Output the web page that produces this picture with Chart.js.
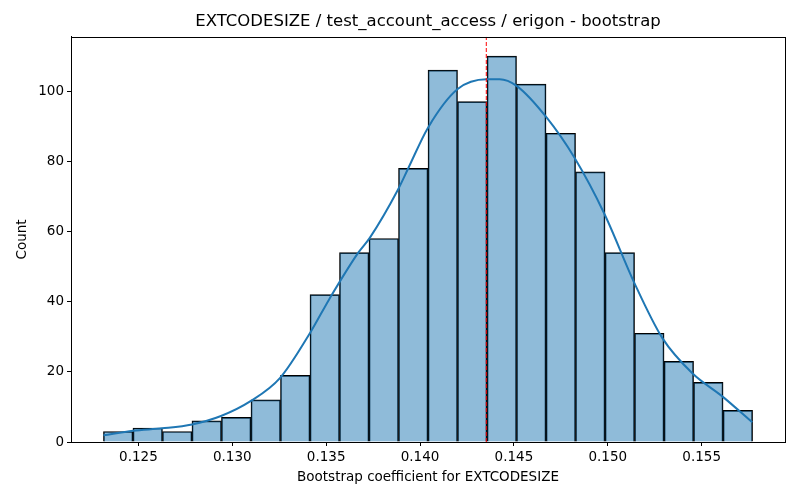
<!DOCTYPE html>
<html>
<head>
<meta charset="utf-8">
<script src="https://cdn.jsdelivr.net/npm/chart.js@4.4.1/dist/chart.umd.min.js"></script>
<style>
    html, body { margin: 0; padding: 0; background: #fff; }
    #wrap { width: 800px; height: 500px; }
</style>
</head>
<body>
<div id="wrap"><canvas id="hist-chart" width="800" height="500"></canvas></div>
<script>
// histogram bin edges (22 bins) and counts
const binEdges = [
    0.123138, 0.12471, 0.126281, 0.127853, 0.129424, 0.130996, 0.132568, 0.134139,
    0.135711, 0.137282, 0.138854, 0.140426, 0.141997, 0.143569, 0.14514, 0.146712,
    0.148284, 0.149855, 0.151427, 0.152998, 0.15457, 0.156142, 0.157713,
];
const binCounts = [3, 4, 3, 6, 7, 12, 19, 42, 54, 58, 78, 106, 97, 110, 102, 88, 77, 54, 31, 23, 17, 9];

// kde curve
const kdeX = [
    0.123138, 0.124718, 0.126261, 0.127856, 0.129399, 0.130995, 0.132537, 0.134133,
    0.135197, 0.136702, 0.137324, 0.13883, 0.139362, 0.140426, 0.142005, 0.143548,
    0.144239, 0.145144, 0.146739, 0.148229, 0.149824, 0.15142, 0.15291, 0.154505,
    0.156101, 0.157697,
];
const kdeY = [
    1.9, 3.2, 3.9, 5.0, 7.4, 11.7, 18.2, 31, 41, 53.9, 58.2, 72, 77.9, 89.6, 100.6, 103.4,
    103.4, 101.5, 92.5, 81, 65, 45.3, 29.6, 19.6, 13, 5.6,
];

const meanValue = 0.14353;
const xTicks = [0.125, 0.13, 0.135, 0.14, 0.145, 0.15, 0.155];
const yTicks = [0, 20, 40, 60, 80, 100];
const xMin = 0.12141;
const xMax = 0.15944;
const yMax = 115.5;

const FONT = "'DejaVu Sans', sans-serif";

const barData = binCounts.map((c, i) => ({ x: (binEdges[i] + binEdges[i + 1]) / 2, y: c }));
const kdeData = kdeX.map((x, i) => ({ x, y: kdeY[i] }));

const frame = {
    id: 'frame',
    afterDraw(chart) {
        const { ctx, chartArea } = chart;
        ctx.save();
        ctx.strokeStyle = '#000';
        ctx.lineWidth = 1;
        ctx.strokeRect(
            Math.round(chartArea.left) + 0.5,
            Math.round(chartArea.top) + 0.5,
            Math.round(chartArea.right - chartArea.left),
            Math.round(chartArea.bottom - chartArea.top)
        );
        ctx.restore();
    },
};

const config = {
    data: {
        datasets: [
            {
                type: 'bar',
                data: barData,
                backgroundColor: 'rgba(31,119,180,0.5)',
                borderColor: '#000',
                borderWidth: 1,
                barPercentage: 1,
                categoryPercentage: 1,
                order: 3,
            },
            {
                type: 'line',
                data: kdeData,
                borderColor: '#1f77b4',
                borderWidth: 2,
                pointRadius: 0,
                cubicInterpolationMode: 'monotone',
                fill: false,
                order: 2,
            },
            {
                type: 'line',
                data: [{ x: meanValue, y: 0 }, { x: meanValue, y: yMax }],
                borderColor: '#ff0000',
                borderWidth: 1,
                borderDash: [4, 2],
                pointRadius: 0,
                fill: false,
                order: 1,
            },
        ],
    },
    options: {
        responsive: false,
        animation: false,
        devicePixelRatio: 1,
        layout: { padding: { left: 0, right: 15, top: 0, bottom: 0 } },
        plugins: {
            legend: { display: false },
            tooltip: { enabled: false },
            title: {
                display: true,
                fullSize: false,
                text: 'EXTCODESIZE / test_account_access / erigon - bootstrap',
                color: '#000',
                font: { family: FONT, size: 16.5, weight: 'normal' },
                padding: { top: 12, bottom: 5 },
            },
        },
        scales: {
            x: {
                type: 'linear',
                min: xMin,
                max: xMax,
                offset: false,
                afterBuildTicks: (scale) => {
                    scale.ticks = xTicks.map((v) => ({ value: v }));
                },
                afterFit: (scale) => {
                    scale.height = 58;
                },
                ticks: {
                    color: '#000',
                    font: { family: FONT, size: 13.5 },
                    padding: 3,
                    maxRotation: 0,
                    callback: (v) => v.toFixed(3),
                },
                grid: { offset: false, drawOnChartArea: false, drawTicks: true, tickLength: 4, color: '#000' },
                border: { display: true, color: '#000' },
                title: {
                    display: true,
                    text: 'Bootstrap coefficient for EXTCODESIZE',
                    color: '#000',
                    font: { family: FONT, size: 13.5 },
                    padding: { top: 0, bottom: 14.5 },
                },
            },
            y: {
                type: 'linear',
                min: 0,
                max: yMax,
                afterBuildTicks: (scale) => {
                    scale.ticks = yTicks.map((v) => ({ value: v }));
                },
                afterFit: (scale) => {
                    scale.width = 71;
                },
                ticks: {
                    color: '#000',
                    font: { family: FONT, size: 13.5 },
                    padding: 3,
                },
                grid: { drawOnChartArea: false, drawTicks: true, tickLength: 4, color: '#000' },
                border: { display: true, color: '#000' },
                title: {
                    display: true,
                    text: 'Count',
                    color: '#000',
                    font: { family: FONT, size: 13.5 },
                    padding: { top: 14, bottom: 0 },
                },
            },
        },
    },
    plugins: [frame],
};

new Chart(document.getElementById('hist-chart'), config);
</script>
</body>
</html>
